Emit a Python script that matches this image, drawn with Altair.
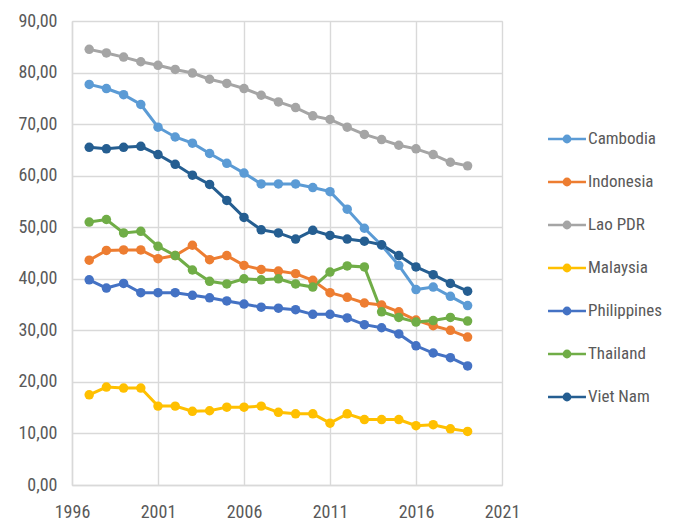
import altair as alt
import pandas as pd

years = list(range(1997, 2020))
countries = ["Cambodia", "Indonesia", "Lao PDR", "Malaysia", "Philippines", "Thailand", "Viet Nam"]
colors = ["#5B9BD5", "#ED7D31", "#A5A5A5", "#FFC000", "#4472C4", "#70AD47", "#255E91"]

cambodia = [77.7, 76.9, 75.7, 73.8, 69.4, 67.5, 66.3, 64.3, 62.4, 60.5, 58.4, 58.4,
            58.4, 57.7, 56.9, 53.5, 49.8, 46.5, 42.6, 37.9, 38.4, 36.6, 34.8]
indonesia = [43.6, 45.5, 45.6, 45.6, 43.9, 44.5, 46.5, 43.7, 44.5, 42.6, 41.8, 41.5,
             41.0, 39.7, 37.3, 36.4, 35.3, 34.9, 33.6, 32.0, 30.9, 30.0, 28.7]
lao = [84.5, 83.8, 83.0, 82.1, 81.4, 80.6, 79.9, 78.7, 77.9, 76.9, 75.6, 74.3,
       73.2, 71.6, 70.9, 69.4, 68.0, 67.0, 65.9, 65.2, 64.1, 62.6, 61.9]
malaysia = [17.5, 19.0, 18.8, 18.8, 15.3, 15.3, 14.3, 14.4, 15.1, 15.1, 15.3, 14.1,
            13.8, 13.8, 12.0, 13.8, 12.7, 12.7, 12.7, 11.5, 11.7, 10.9, 10.4]
philippines = [39.8, 38.2, 39.1, 37.3, 37.3, 37.3, 36.8, 36.3, 35.7, 35.1, 34.5, 34.3,
               34.0, 33.1, 33.1, 32.4, 31.1, 30.5, 29.3, 27.0, 25.6, 24.7, 23.1]
thailand = [51.0, 51.5, 48.9, 49.2, 46.3, 44.5, 41.7, 39.5, 39.0, 40.0, 39.8, 40.0,
            39.0, 38.4, 41.3, 42.5, 42.3, 33.6, 32.5, 31.6, 31.9, 32.5, 31.8]
vietnam = [65.5, 65.2, 65.5, 65.7, 64.1, 62.2, 60.1, 58.3, 55.2, 51.9, 49.5, 48.9,
           47.7, 49.4, 48.4, 47.7, 47.3, 46.6, 44.5, 42.3, 40.8, 39.1, 37.6]

series = [cambodia, indonesia, lao, malaysia, philippines, thailand, vietnam]
rows = []
for c, vals in zip(countries, series):
    for y, v in zip(years, vals):
        rows.append({"country": c, "year": y, "value": v})
df = pd.DataFrame(rows)

FONT = "Liberation Sans Narrow, Roboto Condensed, Arial Narrow, Roboto, sans-serif"
GRID = "#D9D9D9"
TXT = "#595959"

legend = alt.Legend(
    title=None,
    orient="none",
    legendX=481,
    legendY=104,
    symbolType="M-1.5,0L1.5,0M-0.25,0a0.25,0.25 0 1,0 0.5,0a0.25,0.25 0 1,0 -0.5,0",
    symbolSize=640,
    symbolStrokeWidth=2.5,
    symbolOpacity=1,
    labelFont=FONT,
    labelFontSize=17,
    labelColor=TXT,
    labelOffset=7,
    rowPadding=20,
    padding=0,
)
cscale = alt.Scale(domain=countries, range=colors)
stroke = alt.Stroke("country:N", scale=cscale, legend=legend)
fill = alt.Fill("country:N", scale=cscale, legend=legend)

x = alt.X(
    "year:Q",
    scale=alt.Scale(domain=[1996, 2021], nice=False, zero=False),
    axis=alt.Axis(
        title=None, values=[1996, 2001, 2006, 2011, 2016, 2021], format="d",
        grid=True, gridColor=GRID, gridWidth=1.4, ticks=False, labelFlush=False,
        domainColor=GRID, domainWidth=1.4,
        labelFont=FONT, labelFontSize=18, labelColor=TXT, labelPadding=18,
    ),
)
y = alt.Y(
    "value:Q",
    scale=alt.Scale(domain=[0, 90], nice=False),
    axis=alt.Axis(
        title=None, values=[0, 10, 20, 30, 40, 50, 60, 70, 80, 90],
        labelExpr="replace(format(datum.value, '.2f'), '.', ',')",
        grid=True, gridColor=GRID, gridWidth=1.4, ticks=False, labelFlush=False,
        domainColor=GRID, domainWidth=1.4,
        labelFont=FONT, labelFontSize=18, labelColor=TXT, labelPadding=15,
    ),
)

lines = alt.Chart(df).mark_line(strokeWidth=3).encode(
    x=x, y=y, stroke=stroke, order="year:Q"
)
points = alt.Chart(df).mark_point(filled=True, size=90, opacity=1, strokeWidth=0).encode(
    x=x, y=y, fill=fill, stroke=stroke
)

chart = (lines + points).properties(
    width=430, height=464,
    autosize=alt.AutoSizeParams(type="none"),
    padding={"left": 72, "top": 21, "right": 171, "bottom": 39},
).configure_view(stroke=GRID, strokeWidth=1.4).configure(background="white")

chart.save("out.html", embed_options={"renderer": "svg", "actions": False})
